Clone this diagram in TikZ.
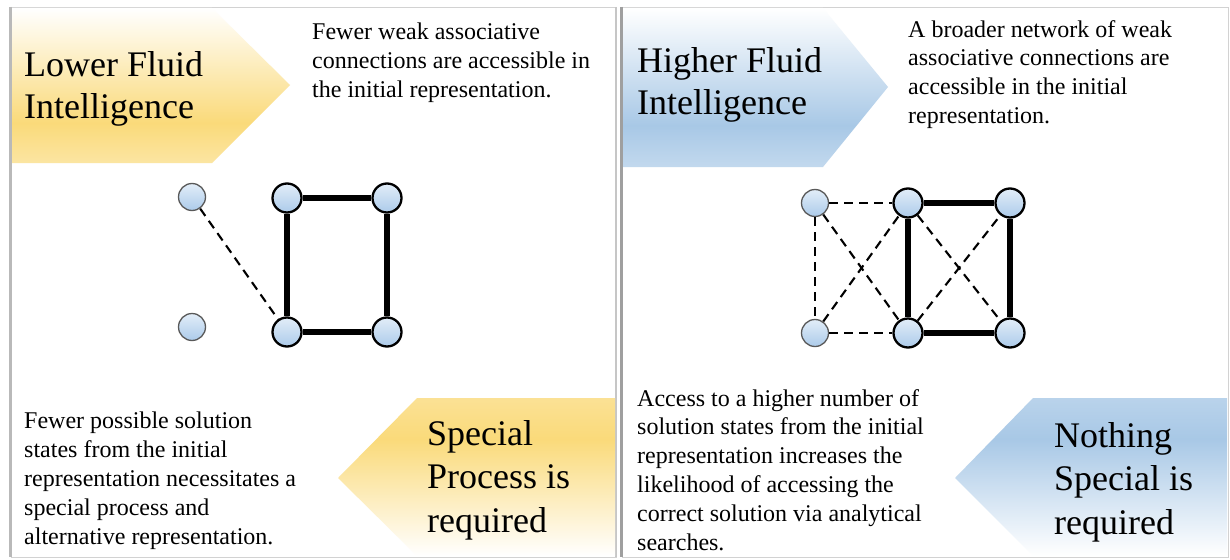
\documentclass[tikz,border=0pt]{standalone}
\usepackage{fontspec}
\setmainfont{Liberation Serif}
\definecolor{yl}{RGB}{250,218,122}
\definecolor{bl}{RGB}{168,200,230}
\definecolor{nodetop}{RGB}{226,237,248}
\definecolor{nodebot}{RGB}{172,203,234}
\pgfdeclareverticalshading{ydown}{100bp}{color(0bp)=(yl!70!white); color(25bp)=(yl!70!white); color(38bp)=(yl); color(75bp)=(white); color(100bp)=(white)}
\pgfdeclareverticalshading{yup}{100bp}{color(0bp)=(white); color(25bp)=(white); color(62bp)=(yl); color(75bp)=(yl!80!white); color(100bp)=(yl!80!white)}
\pgfdeclareverticalshading{bdown}{100bp}{color(0bp)=(bl!70!white); color(25bp)=(bl!70!white); color(38bp)=(bl); color(75bp)=(white); color(100bp)=(white)}
\pgfdeclareverticalshading{bup}{100bp}{color(0bp)=(white); color(25bp)=(white); color(62bp)=(bl); color(75bp)=(bl!80!white); color(100bp)=(bl!80!white)}
\tikzset{
  weaknode/.style={circle, minimum size=27pt, inner sep=0pt, draw=gray!70!black, line width=1.3pt, top color=nodetop, bottom color=nodebot},
  strongnode/.style={weaknode, draw=black, line width=2.3pt, minimum size=29pt},
  strongedge/.style={line width=6pt},
  weakedge/.style={line width=2.1pt, dash pattern=on 9pt off 6pt},
  smalltext/.style={anchor=north west, inner sep=0pt, align=left, font=\fontsize{24}{28.8}\selectfont},
  bigtext/.style={anchor=north west, inner sep=0pt, align=left, font=\fontsize{36}{42.5}\selectfont},
  bigtextb/.style={anchor=north west, inner sep=0pt, align=left, font=\fontsize{36}{43.5}\selectfont},
  panelline/.style={draw=gray!35, line width=0.8pt}
}
\begin{document}
\begin{tikzpicture}[x=1pt,y=-1pt]
\useasboundingbox (0,0) rectangle (1230,559);
\fill[white] (0,0) rectangle (1230,559);
% panels
\draw[panelline] (11,7) rectangle (616,557);
\draw[panelline] (622,7) rectangle (1228,557);
\draw[draw=gray!55, line width=3pt] (10,7) -- (10,557);
\draw[draw=gray!45, line width=2pt] (616,7) -- (616,557);
\draw[draw=gray!75, line width=3pt] (621,7) -- (621,557);
% arrows
\path[shading=ydown] (12,8) -- (212,8) -- (290,85) -- (212,163) -- (12,163) -- cycle;
\path[shading=bdown] (623,8) -- (823,8) -- (888,87) -- (823,167) -- (623,167) -- cycle;
\path[shading=yup] (615,398) -- (417,398) -- (338,478) -- (417,556) -- (615,556) -- cycle;
\path[shading=bup] (1227,398) -- (1033,398) -- (955,478) -- (1033,556) -- (1227,556) -- cycle;
% big texts
\node[bigtext] (lowfi) at (24,51) {Lower Fluid\\Intelligence};
\node[bigtext] (highfi) at (637,47) {Higher Fluid\\Intelligence};
\node[bigtextb] (special) at (427,420) {Special\\Process is\\required};
\node[bigtextb] (nothing) at (1054,422) {Nothing\\Special is\\required};
% small texts
\node[smalltext] (tl) at (312,23) {Fewer weak associative\\connections are accessible in\\the initial representation.};
\node[smalltext] (tr) at (908,20) {A broader network of weak\\associative connections are\\accessible in the initial\\representation.};
\node[smalltext] (bl) at (24,412) {Fewer possible solution\\states from the initial\\representation necessitates a\\special process and\\alternative representation.};
\node[smalltext] (br) at (637,389) {Access to a higher number of\\solution states from the initial\\representation increases the\\likelihood of accessing the\\correct solution via analytical\\searches.};
% left network
\node[weaknode] (la) at (192,197) {};
\node[weaknode] (lc) at (192,327) {};
\node[strongnode] (lb) at (287,198) {};
\node[strongnode] (le) at (387,198) {};
\node[strongnode] (ld) at (287,332) {};
\node[strongnode] (lf) at (387,332) {};
\draw[strongedge] (lb) -- (le);
\draw[strongedge] (lb) -- (ld);
\draw[strongedge] (ld) -- (lf);
\draw[strongedge] (le) -- (lf);
\draw[weakedge] (la) -- (ld);
% right network
\node[weaknode] (ra) at (815,203) {};
\node[weaknode] (rc) at (815,333) {};
\node[strongnode] (rb) at (908,203) {};
\node[strongnode] (re) at (1010,203) {};
\node[strongnode] (rd) at (908,333) {};
\node[strongnode] (rf) at (1010,333) {};
\draw[strongedge] (rb) -- (re);
\draw[strongedge] (rb) -- (rd);
\draw[strongedge] (rd) -- (rf);
\draw[strongedge] (re) -- (rf);
\draw[weakedge] (ra) -- (rb);
\draw[weakedge] (ra) -- (rc);
\draw[weakedge] (rc) -- (rd);
\draw[weakedge] (ra) -- (rd);
\draw[weakedge] (rc) -- (rb);
\draw[weakedge] (rb) -- (rf);
\draw[weakedge] (rd) -- (re);
\end{tikzpicture}
\end{document}
